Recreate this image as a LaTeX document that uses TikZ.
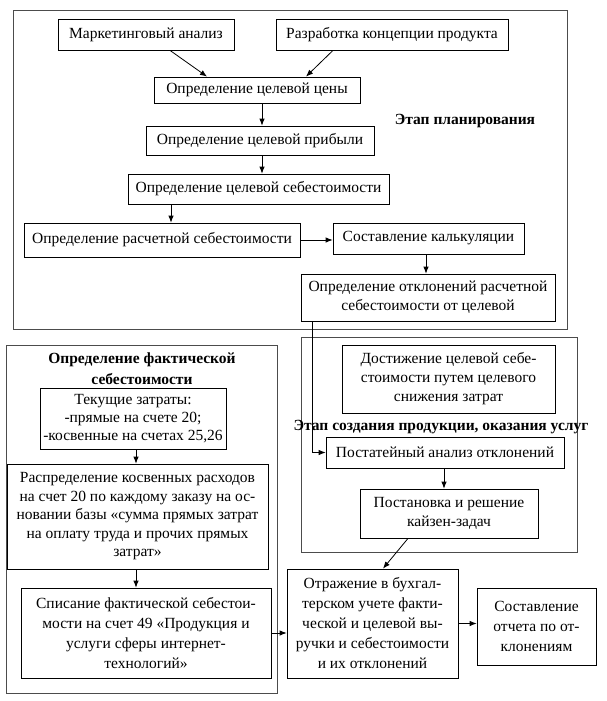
\documentclass[tikz,border=0pt]{standalone}
\usepackage{fontspec}
\setmainfont{Liberation Serif}
\usetikzlibrary{arrows.meta,calc}
\begin{document}
\begin{tikzpicture}[x=1pt,y=-1pt,
  box/.style={draw=black,line width=0.8pt,align=center,inner sep=0pt,
    font=\fontsize{15.5}{19}\selectfont},
  frame/.style={draw=black!70,line width=1pt},
  lbl/.style={font=\fontsize{15.5}{21}\selectfont\bfseries,inner sep=0pt,align=center},
  arr/.style={draw=black,line width=0.8pt,-{Latex[length=7pt,width=5.5pt]}}]
\useasboundingbox[fill=white] (0,0) rectangle (606,701);
% frames
\draw[frame] (13,11) rectangle (567,329);
\draw[frame] (6,345) rectangle (277,693);
\draw[frame] (301,337) rectangle (577,552);
% planning
\node[box,minimum width=176pt,minimum height=31pt] (mark) at (146,34.5) {Маркетинговый анализ};
\node[box,minimum width=232pt,minimum height=31pt] (razr) at (392,34.5) {Разработка концепции продукта};
\node[box,minimum width=206pt,minimum height=26pt] (cena) at (257,90) {Определение целевой цены};
\node[box,minimum width=228pt,minimum height=29pt] (prib) at (260,140.5) {Определение целевой прибыли};
\node[box,minimum width=261pt,minimum height=30pt] (seb) at (258.5,189) {Определение целевой себестоимости};
\node[box,minimum width=276pt,minimum height=34pt] (rasch) at (162,240) {Определение расчетной себестоимости};
\node[box,minimum width=191pt,minimum height=31pt] (kalk) at (428.5,238.5) {Составление калькуляции};
\node[box,minimum width=254pt,minimum height=47pt] (otkl) at (428,297.5) {Определение отклонений расчетной\\себестоимости от целевой};
\node[lbl] (lplan) at (465,121) {Этап планирования};
% actual cost
\node[lbl] (lfact) at (142,369) {Определение фактической\\себестоимости};
\node[box,minimum width=186pt,minimum height=61pt,font=\fontsize{15.5}{18}\selectfont] (tek) at (133,418.5) {Текущие затраты:\\-прямые на счете 20;\\-косвенные на счетах 25,26};
\node[box,minimum width=261pt,minimum height=105pt,font=\fontsize{15.5}{18.5}\selectfont] (raspr) at (137.5,516.5) {Распределение косвенных расходов\\на счет 20 по каждому заказу на ос-\\новании базы «сумма прямых затрат\\на оплату труда и прочих прямых\\затрат»};
\node[box,minimum width=250pt,minimum height=90pt,font=\fontsize{15.5}{20}\selectfont] (spis) at (146,633) {Списание фактической себестои-\\мости на счет 49 «Продукция и\\услуги сферы интернет-\\технологий»};
% creation
\node[box,minimum width=213pt,minimum height=68pt] (dost) at (448.5,379) {Достижение целевой себе-\\стоимости путем целевого\\снижения затрат};
\node[lbl] (lcreate) at (441,427) {Этап создания продукции, оказания услуг};
\node[box,minimum width=238pt,minimum height=31pt] (post) at (445,452.5) {Постатейный анализ отклонений};
\node[box,minimum width=178pt,minimum height=49pt] (kaiz) at (449,513.5) {Постановка и решение\\кайзен-задач};
\node[box,minimum width=171pt,minimum height=109pt,font=\fontsize{15.5}{20}\selectfont] (otr) at (372.5,623.5) {Отражение в бухгал-\\терском учете факти-\\ческой и целевой вы-\\ручки и себестоимости\\и их отклонений};
\node[box,minimum width=119pt,minimum height=77pt,font=\fontsize{15.5}{20}\selectfont] (sost) at (536.5,626.5) {Составление\\отчета по от-\\клонениям};
% arrows
\draw[arr] ([xshift=24pt]mark.south) -- ([xshift=-50pt]cena.north);
\draw[arr] ([xshift=-59pt]razr.south) -- ([xshift=49pt]cena.north);
\draw[arr] ([xshift=5pt]cena.south) -- ([xshift=2pt]prib.north);
\draw[arr] ([xshift=2pt]prib.south) -- ([xshift=3.5pt]seb.north);
\draw[arr] ([xshift=-87.5pt]seb.south) -- ([xshift=9pt]rasch.north);
\draw[arr] (rasch.east) -- (rasch.east -| kalk.west);
\draw[arr] ([xshift=-2.5pt]kalk.south) -- ([xshift=-2pt]otkl.north);
\draw[arr] ([xshift=12pt]otkl.south west) |- (post.west);
\draw[arr] ([xshift=3pt]tek.south) -- ([xshift=-1.5pt]raspr.north);
\draw[arr] ([xshift=-1.5pt]raspr.south) -- ([xshift=-10pt]spis.north);
\draw[arr] (spis.east) -- (spis.east -| otr.west);
\draw[arr] ([xshift=-1pt]post.south) -- ([xshift=-5pt]kaiz.north);
\draw[arr] ([xshift=-41pt]kaiz.south) -- ([xshift=10.5pt]otr.north);
\draw[arr] (otr.east) -- (otr.east -| sost.west);
\end{tikzpicture}
\end{document}
